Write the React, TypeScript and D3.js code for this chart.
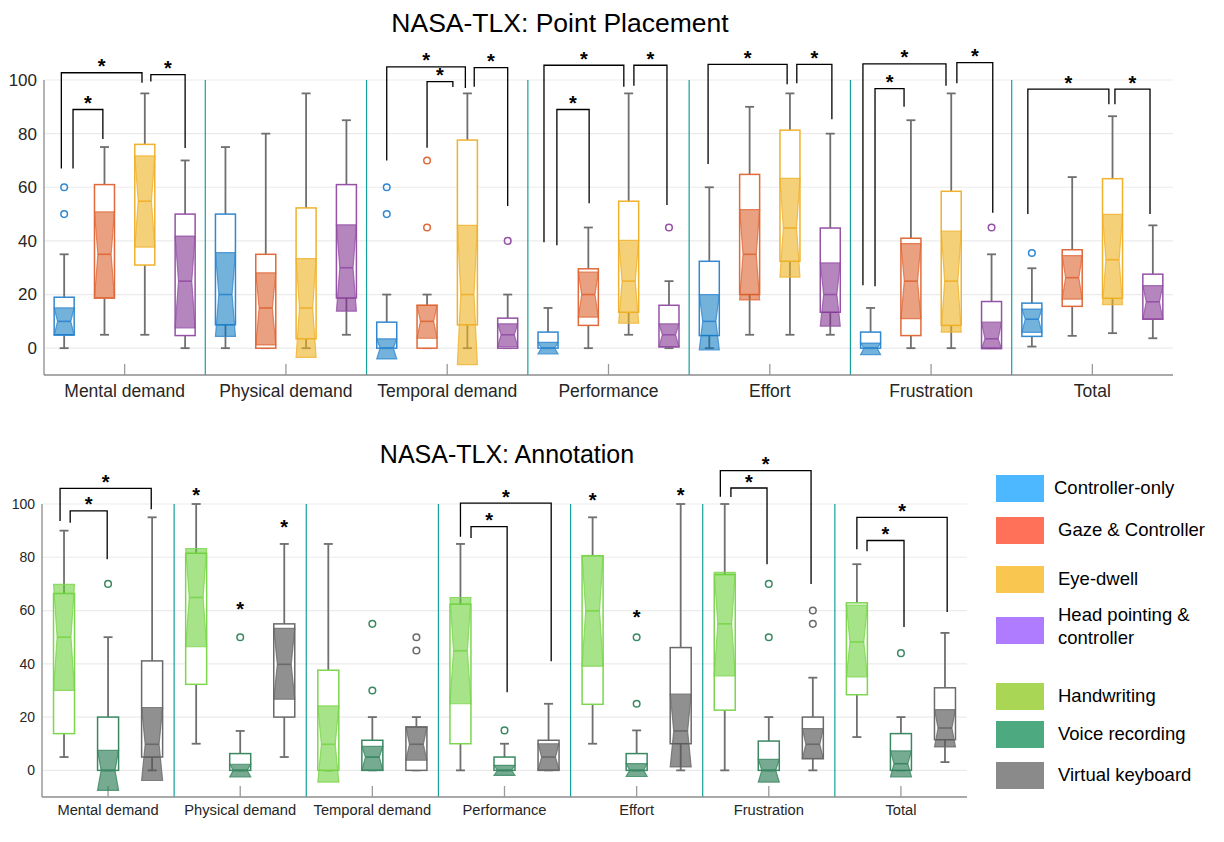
import React from 'react'
import * as d3 from 'd3'

const tlxCategories = ['Mental demand', 'Physical demand', 'Temporal demand', 'Performance', 'Effort', 'Frustration', 'Total']
const yTicks = [0, 20, 40, 60, 80, 100]

// each row: [whisker low, q1, notch low, median, notch high, q3, whisker high]
const controllerOnly = [
  [0, 5, 4.8, 10, 15, 19, 35],
  [0, 8.7, 4.4, 20, 35.6, 50, 75],
  [0, 0, -4, 0, 3.5, 9.7, 20],
  [0, 0, -2.1, 0, 2.2, 6, 15],
  [0, 4.7, -0.6, 10, 20, 32.4, 60],
  [0, 0, -2.4, 0, 1.9, 6, 15],
  [0.6, 4.4, 5.9, 10.8, 14.6, 16.8, 29.8],
]
const controllerOnlyOut = [[60, 50], [], [60, 50], [], [], [], [35.5]]

const gazeController = [
  [5, 18.7, 18.7, 35, 50.8, 61, 75],
  [0, 0, 1.2, 15, 28.1, 35, 80],
  [0, 0, 3.7, 10, 16, 16, 20],
  [0, 8.5, 11.6, 20, 28.4, 29.6, 45],
  [5, 20, 18, 35, 51.7, 64.8, 90],
  [0, 4.7, 11, 25, 39, 41, 85],
  [4.6, 15.6, 18.3, 26.3, 34.5, 36.7, 63.8],
]
const gazeControllerOut = [[], [], [70, 45], [], [], [], []]

const eyeDwell = [
  [5, 31, 37.7, 54.8, 71.7, 76, 95],
  [0, 3.5, -3.4, 15, 33.4, 52.3, 95],
  [0, 8.7, -6.1, 20, 45.8, 77.6, 95],
  [5, 13.4, 9.3, 25, 40.2, 54.8, 95],
  [5, 32.4, 26.5, 44.8, 63.3, 81.3, 95],
  [0, 8.5, 6, 25, 43.7, 58.5, 95],
  [5.6, 18.6, 16.2, 33, 49.9, 63.2, 86.5],
]
const eyeDwellOut = [[], [], [], [], [], [], []]

const headPointing = [
  [0, 4.7, 7.6, 25, 41.8, 50, 70],
  [5, 18.7, 13.8, 30, 46, 61, 85],
  [0, 0, 0.6, 5, 9.1, 11.2, 20],
  [0, 0.5, 0.5, 5, 9.1, 16, 25],
  [5, 13.4, 8.2, 20, 31.8, 44.8, 80],
  [0, 0, -0.3, 3.5, 9.7, 17.4, 35],
  [3.7, 10.8, 10.8, 17.3, 23.3, 27.6, 45.8],
]
const headPointingOut = [[], [], [40], [45], [], [45], []]

const handwriting = [
  [5, 13.8, 30, 50, 69.8, 66.4, 90],
  [10, 32.3, 46.4, 64.9, 83.3, 81.5, 100],
  [0, 0, -4.4, 9.8, 24.2, 37.6, 85],
  [0, 10, 25, 44.9, 64.9, 62.4, 85],
  [10, 24.8, 39.1, 59.9, 80.6, 80.6, 95],
  [0, 22.6, 35.5, 55, 74.3, 73.5, 100],
  [12.5, 28.4, 35.1, 48.2, 62, 62.9, 77.4],
]
const handwritingOut = [[], [], [], [], [], [], []]

const voiceRecording = [
  [0, 0, -7.5, 0, 7.5, 20, 50],
  [0, 0, -2.5, 0, 2.3, 6.3, 14.8],
  [0, 0, 0, 5, 9, 11.3, 20],
  [0, 0, -1.9, 0, 1.9, 5, 10],
  [0, 0, -2.3, 0, 2.5, 6.3, 15],
  [0, 0, -4.4, 0, 4.1, 11, 20],
  [0, 0, -2.5, 2.5, 7.3, 13.8, 20],
]
const voiceRecordingOut = [[70], [50], [55, 30], [15], [50, 25], [70, 50], [44]]

const virtualKeyboard = [
  [0, 5, -3.8, 9.8, 23.6, 41.1, 95],
  [5, 20, 26.7, 39.8, 53.3, 55, 85],
  [0, 0, 3.8, 9.8, 16.3, 16.3, 20],
  [0, 0, 0.3, 5, 10, 11.3, 25],
  [0, 10, 1.3, 14.8, 28.6, 46.1, 100],
  [0, 4.4, 4.4, 9.8, 15.7, 20, 34.8],
  [3.1, 11.5, 8.8, 15.9, 22.8, 31, 51.6],
]
const virtualKeyboardOut = [[], [], [50, 45], [], [], [60, 55], []]

// significance brackets: [category, left box pos, right box pos, top value, left leg end, right leg end]
const placementBrackets = [
  [0, -0.07, 1.93, 102.7, 67, 99],
  [0, 0.22, 0.96, 89, 67, 78],
  [0, 2.15, 3, 102, 99.4, 74.6],
  [2, 0, 1.95, 104.9, 70, 97],
  [2, 1, 1.64, 99.4, 74.7, 97.4],
  [2, 2.17, 3, 104.6, 97.5, 53],
  [3, -0.1, 1.88, 105.5, 39.5, 97.5],
  [3, 0.22, 1.02, 89, 38.4, 54],
  [3, 2.13, 2.95, 105.5, 97.9, 53.4],
  [4, -0.03, 1.93, 105.8, 68.7, 98.4],
  [4, 2.17, 3.04, 105.8, 98.8, 85.4],
  [5, -0.19, 1.87, 106, 23.5, 97.9],
  [5, 0.11, 0.83, 96.8, 23.1, 90],
  [5, 2.14, 3.03, 106.5, 98.8, 50.5],
  [6, -0.1, 1.91, 96.6, 50, 91],
  [6, 2.06, 2.93, 96.6, 91, 50],
]
const annotationBrackets = [
  [0, -0.09, 1.98, 105.9, 93.6, 98],
  [0, 0.14, 0.98, 97.4, 93, 79.3],
  [3, 0, 2.06, 100.3, 87.7, 41],
  [3, 0.24, 1.06, 91.5, 87.2, 29.3],
  [5, -0.1, 1.96, 112.5, 102.7, 70],
  [5, 0.14, 0.96, 106, 102.6, 77.4],
  [6, 0, 2.05, 95, 83, 59.5],
  [6, 0.23, 1.07, 86.3, 82.3, 53.8],
]
// single stars: [category, box, value]
const annotationStars = [
  [1, 0, 105], [1, 1, 62], [1, 2, 93],
  [4, 0, 103], [4, 1, 59], [4, 2, 105],
]

const legendLabels = [['Controller-only'], ['Gaze & Controller'], ['Eye-dwell'], ['Head pointing &', 'controller'], ['Handwriting'], ['Voice recording'], ['Virtual keyboard']]
const legendColors = ['#4db8ff', '#ff7158', '#f9c74f', '#b07cff', '#a9d655', '#4daa80', '#8a8a8a']

type Series = { stats: number[][]; outliers: number[][]; edge: string; fill: string; opacity: number }

const placementSeries: Series[] = [
  { stats: controllerOnly, outliers: controllerOnlyOut, edge: '#3188d0', fill: '#0072BD', opacity: 0.55 },
  { stats: gazeController, outliers: gazeControllerOut, edge: '#e06a3b', fill: '#D95319', opacity: 0.55 },
  { stats: eyeDwell, outliers: eyeDwellOut, edge: '#f0b12c', fill: '#EDB120', opacity: 0.6 },
  { stats: headPointing, outliers: headPointingOut, edge: '#9552a6', fill: '#7E2F8E', opacity: 0.58 },
]
const annotationSeries: Series[] = [
  { stats: handwriting, outliers: handwritingOut, edge: '#7cd64e', fill: '#66cf33', opacity: 0.58 },
  { stats: voiceRecording, outliers: voiceRecordingOut, edge: '#3a8862', fill: '#2d7c56', opacity: 0.65 },
  { stats: virtualKeyboard, outliers: virtualKeyboardOut, edge: '#6a6a6a', fill: '#555555', opacity: 0.65 },
]

const FONT = 'Liberation Sans, Arial, Helvetica, sans-serif'

function Panel(props: {
  title: string; titleX: number; titleY: number; titleSize: number
  left: number; right: number; top: number; bottom: number
  series: Series[]; brackets: number[][]; stars?: number[][]
  tickSize: number; labelSize: number; labelY: number; boxW: number
}) {
  const { title, titleX, titleY, titleSize, left, right, top, bottom, series, brackets, stars = [], tickSize, labelSize, labelY, boxW } = props
  const x = d3.scaleBand<string>().domain(tlxCategories).range([left, right])
  const inner = d3.scaleBand<number>().domain(series.map((_, i) => i)).range([0, x.bandwidth()])
  const y = d3.scaleLinear().domain([-10, 100]).range([bottom, top])
  const pos = (g: number, p: number) => (x(tlxCategories[g]) as number) + (p + 0.5) * inner.step()
  const hw = boxW / 2
  const waist = hw * 0.66
  const cap = 4.5

  return (
    <g fontFamily={FONT}>
      <text x={titleX} y={titleY} textAnchor="middle" fontSize={titleSize} fill="#000">{title}</text>
      {yTicks.map(t => (
        <g key={t}>
          <line x1={left} x2={right} y1={y(t)} y2={y(t)} stroke="#ebebeb" strokeWidth={1.2} />
          <text x={left - 7} y={y(t)} dy="0.35em" textAnchor="end" fontSize={tickSize} fill="#262626">{t}</text>
        </g>
      ))}
      {tlxCategories.slice(1).map(c => (
        <line key={c} x1={x(c)} x2={x(c)} y1={y(100)} y2={bottom} stroke="#14a19b" strokeWidth={1.2} />
      ))}
      <line x1={left} x2={left} y1={y(100)} y2={bottom} stroke="#8c8c8c" strokeWidth={1.3} />
      <line x1={left} x2={right} y1={bottom} y2={bottom} stroke="#8c8c8c" strokeWidth={1.3} />
      {tlxCategories.map(c => {
        const cx = (x(c) as number) + x.bandwidth() / 2
        return (
          <g key={c}>
            <line x1={cx} x2={cx} y1={bottom} y2={bottom - 11} stroke="#9a9a9a" strokeWidth={1.3} />
            <text x={cx} y={labelY} textAnchor="middle" fontSize={labelSize} fill="#262626">{c}</text>
          </g>
        )
      })}
      {series.map((s, si) => s.stats.map((d, g) => {
        const [lo, q1, nLo, med, nHi, q3, hi] = d
        const cx = pos(g, si)
        const notch = [
          [cx - hw, y(nLo)], [cx + hw, y(nLo)], [cx + waist, y(med)], [cx + hw, y(nHi)],
          [cx - hw, y(nHi)], [cx - waist, y(med)],
        ]
        return (
          <g key={`${si}-${g}`}>
            <line x1={cx} x2={cx} y1={y(lo)} y2={y(hi)} stroke="#6f6f6f" strokeWidth={1.8} />
            <line x1={cx - cap} x2={cx + cap} y1={y(lo)} y2={y(lo)} stroke="#6f6f6f" strokeWidth={1.8} />
            <line x1={cx - cap} x2={cx + cap} y1={y(hi)} y2={y(hi)} stroke="#6f6f6f" strokeWidth={1.8} />
            <rect x={cx - hw} y={y(q3)} width={boxW} height={y(q1) - y(q3)} fill="#fff" stroke={s.edge} strokeWidth={1.5} />
            <polygon points={notch.map(p => p.join(',')).join(' ')} fill={s.fill} fillOpacity={s.opacity} stroke={s.edge} strokeWidth={1.2} strokeOpacity={0.8} />
            <line x1={cx - waist} x2={cx + waist} y1={y(med)} y2={y(med)} stroke={s.edge} strokeWidth={1.6} />
            {s.outliers[g].map((o, k) => (
              <circle key={k} cx={cx} cy={y(o)} r={3.3} fill="none" stroke={s.edge} strokeWidth={1.5} />
            ))}
          </g>
        )
      }))}
      {brackets.map((b, i) => {
        const [g, a, c, t, la, lc] = b
        const xa = pos(g, a)
        const xc = pos(g, c)
        return (
          <g key={i}>
            <path d={`M${xa},${y(la)}V${y(t)}H${xc}V${y(lc)}`} fill="none" stroke="#000" strokeWidth={1.3} />
            <text x={(xa + xc) / 2} y={y(t) + 0.5} textAnchor="middle" fontSize={20} fontWeight="bold" fill="#000">*</text>
          </g>
        )
      })}
      {stars.map((s, i) => (
        <text key={i} x={pos(s[0], s[1])} y={y(s[2]) + 11} textAnchor="middle" fontSize={20} fontWeight="bold" fill="#000">*</text>
      ))}
    </g>
  )
}

function Legend() {
  const rectTops = [475, 517, 566, 617, 683, 721, 762]
  return (
    <g fontFamily={FONT}>
      {legendLabels.map((lines, i) => (
        <g key={i}>
          <rect x={996} y={rectTops[i]} width={48} height={27} fill={legendColors[i]} />
          {lines.map((l, k) => (
            <text key={k} x={i === 0 ? 1054 : 1058} y={rectTops[i] + 13 + (lines.length > 1 ? (k - 0.5) * 23 - 4 : 0)}
              dy="0.35em" fontSize={18.5} fill="#000">{l}</text>
          ))}
        </g>
      ))}
    </g>
  )
}

export default function App() {
  return (
    <div style={{ position: 'absolute', left: 0, top: 0 }}>
      <svg width={1224} height={842} style={{ display: 'block', background: '#fff' }}>
        <Panel title="NASA-TLX: Point Placement" titleX={560} titleY={32} titleSize={26.5}
          left={44} right={1173} top={80} bottom={375}
          series={placementSeries} brackets={placementBrackets}
          tickSize={17} labelSize={17.5} labelY={397} boxW={20} />
        <Panel title="NASA-TLX: Annotation" titleX={507} titleY={463} titleSize={25}
          left={42} right={967} top={504} bottom={797}
          series={annotationSeries} brackets={annotationBrackets} stars={annotationStars}
          tickSize={14} labelSize={14.7} labelY={815} boxW={21} />
        <Legend />
      </svg>
    </div>
  )
}
